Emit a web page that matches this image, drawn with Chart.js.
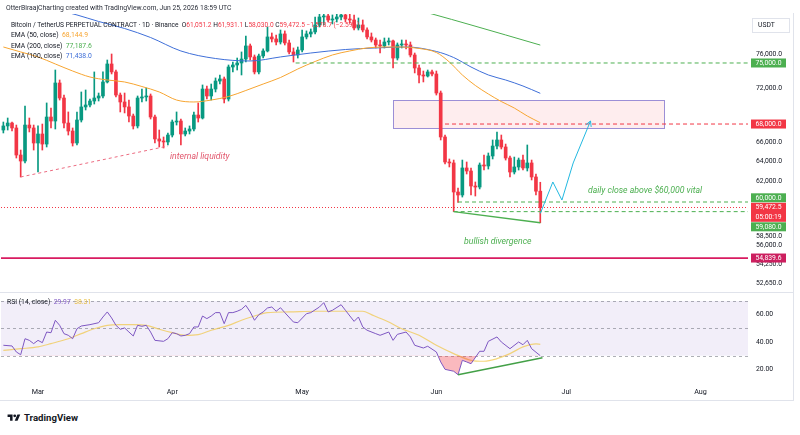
<!DOCTYPE html>
<html>
<head>
<meta charset="utf-8">
<script src="https://cdn.jsdelivr.net/npm/chart.js@4.4.1/dist/chart.umd.min.js"></script>
<style>
  body { margin: 0; background: #fff; font-family: Roboto, "DejaVu Sans", sans-serif; color: #131722; }
  #wrap { position: relative; width: 800px; height: 435px; overflow: hidden; background: #fff; }
  canvas { position: absolute; left: 0; }
  #main { top: 0; }
  #rsi { top: 293px; }
  .t { position: absolute; white-space: nowrap; font-size: 6.8px; line-height: 10px; z-index: 3; }
  .r { color: #f23645; }
  .line { position: absolute; background: #e0e3eb; z-index: 2; }
  #logo { position: absolute; left: 7px; top: 412px; display: flex; align-items: center; gap: 3px; font-weight: 700; font-size: 9.6px; }
</style>
</head>
<body>
<div id="wrap">
  <canvas id="main" width="800" height="292"></canvas>
  <canvas id="rsi" width="800" height="107"></canvas>
  <div class="line" style="left:0;top:292px;width:793px;height:1px"></div>
  <div class="line" style="left:793px;top:13px;width:1px;height:388px"></div>
  <div class="line" style="left:0;top:400px;width:794px;height:1px"></div>

  <div class="t" style="left:6px;top:3px;color:#2a2e39">OtterBiraajCharting created with TradingView.com, Jun 25, 2026 18:59 UTC</div>
  <div class="t" style="left:11px;top:20px;font-size:6.6px">Bitcoin / TetherUS PERPETUAL CONTRACT · 1D · Binance&nbsp; O<span class="r" id="vO"></span> H<span class="r" id="vH"></span> L<span class="r" id="vL"></span> C<span class="r" id="vC"></span></div>
  <div class="t" style="left:11px;top:30px">EMA (50, close)&nbsp; <span id="e50" style="color:#f7a531"></span></div>
  <div class="t" style="left:11px;top:40.5px">EMA (200, close)&nbsp; <span id="e200" style="color:#4caf50"></span></div>
  <div class="t" style="left:11px;top:50.5px">EMA (100, close)&nbsp; <span id="e100" style="color:#3f6fd8"></span></div>
  <div class="t" style="left:7px;top:297px">RSI (14, close)&nbsp; <span id="rsiV" style="color:#7e57c2"></span>&nbsp; <span id="maV" style="color:#e9c046"></span></div>

  <div id="logo">
    <svg width="14" height="10" viewBox="0 0 36 28"><path d="M14 22H7V11H0V4h14v18zM28 22h-8l7.5-18h8L28 22z" fill="#131722"/><circle cx="20" cy="8" r="4" fill="#131722"/></svg>
    <span>TradingView</span>
  </div>
</div>
<script>
// daily candles, first candle = 21 Feb (day -8), day 0 = 1 Mar
var firstDay = -8;
var openP = [
  67350,67790,68110,67570,64700,64080,67890,67570,65960,66920,
  65850,68770,68330,72630,70900,68110,67240,65960,68440,69890,
  70110,70560,70900,71130,72750,74880,73930,71240,70450,69890,
  68880,67790,70900,71020,71130,68770,66390,66170,66070,66810,
  68220,68330,66920,67240,67460,68990,68660,71930,71130,71930,
  72860,73100,70790,74520,74760,75000,75480,77080,75730,73930,
  75850,76460,78200,77950,77570,78580,77450,76340,75970,76580,
  78200,78580,78830,79720,80750,80880,80360,80490,80750,81010,
  80490,80360,79340,79720,79080,78200,77820,77200,77080,77570,
  77700,75600,77200,77320,77200,75970,74400,73570,73450,73930,
  73690,71470,66600,63980,63880,60970,60680,63370,63060,61560,
  61460,63670,63570,64600,65640,66280,65540,64390,62960,63470,
  64180,63370,63880,62460,61051.2
];
var highP = [
  68220,68660,68220,67890,65220,70000,68660,67890,67790,68000,
  70340,69770,74160,72980,71240,69330,67570,69330,71590,71820,
  70790,73930,71470,73930,75360,76090,74160,71470,71470,70670,
  69100,71130,71930,72050,71360,68990,67350,66600,67030,68440,
  69330,68550,67570,67790,69330,70340,72400,72280,72510,73220,
  73570,73330,74760,75120,75600,76340,78320,77320,75970,76090,
  76710,79460,78700,78450,79080,78960,77820,76830,76950,79080,
  78960,79210,80750,81660,81400,81400,81010,81140,81400,81400,
  81140,81010,80620,80360,79340,78700,78070,77820,78070,78070,
  77820,77450,77820,77820,77570,76210,74760,74040,74160,74160,
  74040,71700,66810,64290,64180,61360,64180,63980,63370,61960,
  63880,64700,64910,66280,67140,66810,65850,64600,64490,64390,
  64700,65750,64180,62760,61931.1
];
var lowP = [
  67030,67350,67240,64390,62460,63880,67140,65220,62960,65220,
  65540,67570,67460,70670,67570,66810,65640,65750,68220,69550,
  69890,70220,70560,70900,72630,73690,71020,69330,69220,68220,
  67460,67570,70450,70560,68550,65960,65540,65430,65750,66600,
  67890,65750,66710,66920,67240,68220,68550,70790,70670,71590,
  72510,70340,70560,73930,74160,73570,75120,75360,73690,73690,
  75600,76340,77570,77200,77320,77200,76090,75120,75600,76340,
  77950,78200,78580,79460,79720,80100,79850,80100,80360,80100,
  79970,79080,79080,78830,77950,77570,76830,76210,76830,77200,
  74400,75360,76830,76710,75730,73810,72630,72750,73330,73450,
  71240,66280,63770,63470,59080,59960,60480,62760,60680,60580,
  61270,63160,63260,64290,65330,65330,64180,62460,62760,63160,
  63160,63060,62160,60680,58030
];
var closeP = [
  67790,68110,67570,64700,64080,67890,67570,65960,66920,65850,
  68770,68330,72630,70900,68110,67240,65960,68440,69890,70110,
  70560,70900,71130,72750,74880,73930,71240,70450,69890,68880,
  67790,70900,71020,71130,68770,66390,66170,66070,66810,68220,
  68330,66920,67240,67460,68990,68660,71930,71130,71930,72860,
  73100,70790,74520,74760,75000,75480,77080,75730,73930,75850,
  76460,78200,77950,77570,78580,77450,76340,75970,76580,78200,
  78580,78830,79720,80750,80880,80360,80490,80750,81010,80490,
  80360,79340,79720,79080,78200,77820,77200,77080,77570,77700,
  75600,77200,77320,77200,75970,74400,73570,73450,73930,73690,
  71470,66600,63980,63880,60970,60680,63370,63060,61560,61460,
  63670,63570,64600,65640,66280,65540,64390,62960,63470,64180,
  63370,63880,62460,61051.2,59472.5
];

// moving averages, read at sample days
var ema50Days = [-8,-4,0,4,8,12,16,20,24,28,32,36,40,44,48,52,56,60,64,68,72,76,80,84,88,92,95,98,101,104,107,110,113,116];
var ema50 = [76950,76340,75730,74880,74040,73330,72980,72750,72220,71590,70670,70450,70670,71070,71760,72510,73270,74280,75180,75970,76460,76830,76950,76950,76770,76270,75120,73570,72340,71360,70500,69770,68880,68144.9];
var ema100Days = [-8,0,9,14,20,26,33,41,49,56,63,71,78,85,92,96,100,104,108,112,116];
var ema100 = [83380,82320,81010,80170,79270,78130,76460,75540,75240,75730,76210,76640,76830,76950,76400,75660,74520,73570,72980,72280,71438.0];
var ema200Days = [84,91,100,108,116];
var ema200 = [82180,81140,79720,78450,77187.6];

// RSI pane
var rsiDays = [-8,-6,-5,-4,-3,-2,-1,0,1,2,3,4,5,6,7,8,9,10,12,14,15,16,17,18,19,20,21,22,23,24,25,26,27,29,30,31,32,33,34,35,36,37,38,39,40,41,42,43,44,45,46,47,48,49,50,51,52,53,54,55,56,57,59,60,62,63,65,66,67,68,70,71,73,74,75,76,78,79,81,82,83,85,86,87,89,90,92,93,94,96,97,98,99,100,102,103,104,106,107,109,111,112,113,114,116];
var rsiVals = [37.6,37.1,32.7,30.7,42.4,41.2,38.8,41.2,39.5,47.3,46.8,55.9,52.2,46.1,44.9,42.4,49.7,51.7,52.7,54.1,58.3,62.0,57.6,52.2,49.3,50.3,47.3,44.4,52.2,51.5,52.2,47.3,41.2,40.5,42.4,46.8,46.1,44.4,44.9,46.1,51.0,51.0,59.0,57.1,59.0,61.5,61.5,53.4,61.5,61.5,62.5,63.9,66.8,62.0,55.9,60.0,62.0,64.9,65.6,62.5,65.1,61.5,54.6,54.1,60.7,61.5,65.6,68.8,62.0,63.2,67.3,63.2,55.1,58.3,51.0,48.6,46.1,44.9,47.3,41.2,45.6,47.3,43.7,37.6,35.6,36.9,32.7,25.4,20.0,18.6,16.1,26.6,25.4,24.1,33.2,33.2,40.5,43.7,40.0,35.1,40.0,38.0,41.2,35.1,29.97];
var rsiMaDays = [-8,-4,0,3,7,10,13,16,19,22,25,28,31,34,37,40,44,47,50,53,58,64,69,75,77,81,84,88,92,96,100,103,106,109,112,115,116];
var rsiMa = [33.9,35.1,36.4,38.8,42.4,46.1,49.7,52.2,52.7,52.7,52.2,49.3,46.8,44.9,45.4,48.6,52.2,55.9,59.0,61.5,62.0,62.5,62.5,62.5,60.0,54.6,49.7,44.9,37.6,31.5,26.6,25.9,27.8,31.5,36.4,38.6,38.31];

// drawings
var zoneDays = [82, 144.5];
var zonePrices = [70700, 67550];
var arrowDays = [116, 118.9, 121, 123.6, 127.6];
var arrowPrices = [58900, 61960, 60190, 63880, 68330];
var liquidityDays = [-4, 30];
var liquidityPrices = [62460, 65640];
var divergenceDays = [96, 116];
var divergencePrices = [59080, 58030];
var rsiDivDays = [97, 116.5];
var rsiDivVals = [16.1, 28.5];
var levels = [75000, 68000, 60000, 59080, 54839.6];
var levelStart = [59.5, 94, 97, 96, -9];
var priceTicks = [76000, 72000, 66000, 64000, 62000, 56000, 54250, 52650];
var monthDays = [0, 31, 61, 92, 122, 153];
var monthNames = ['Mar', 'Apr', 'May', 'Jun', 'Jul', 'Aug'];

var X_MIN = -8.545, X_MAX = 163.97;
var UP = '#089981', DOWN = '#f23645';
var FONT = 'Roboto, "DejaVu Sans", sans-serif';

function fmt(v, d) { return v.toLocaleString('en-US', { minimumFractionDigits: d, maximumFractionDigits: d }); }
function pts(xs, ys) { return xs.map(function (x, i) { return { x: x, y: ys[i] }; }); }

var days = closeP.map(function (c, i) { return firstDay + i; });
var candleColors = closeP.map(function (c, i) { return c >= openP[i] ? UP : DOWN; });
var last = closeP.length - 1;

document.getElementById('vO').textContent = fmt(openP[last], 1);
document.getElementById('vH').textContent = fmt(highP[last], 1);
document.getElementById('vL').textContent = fmt(lowP[last], 1);
var chg = closeP[last] - openP[last];
document.getElementById('vC').textContent = fmt(closeP[last], 1) + ' \u2212' + fmt(-chg, 1) + ' (\u2212' + fmt(-chg / openP[last] * 100, 2) + '%)';
document.getElementById('e50').textContent = fmt(ema50[ema50.length - 1], 1);
document.getElementById('e200').textContent = fmt(ema200[ema200.length - 1], 1);
document.getElementById('e100').textContent = fmt(ema100[ema100.length - 1], 1);
document.getElementById('rsiV').textContent = fmt(rsiVals[rsiVals.length - 1], 2);
document.getElementById('maV').textContent = fmt(rsiMa[rsiMa.length - 1], 2);

function lineDs(data, color, extra) {
  var ds = { type: 'line', data: data, borderColor: color, borderWidth: 1, pointRadius: 0, fill: false, order: 3 };
  for (var k in extra) ds[k] = extra[k];
  return ds;
}

var datasets = [
  { type: 'bar', data: days.map(function (d, i) { return { x: d, y: [Math.min(openP[i], closeP[i]), Math.max(openP[i], closeP[i])] }; }),
    backgroundColor: candleColors, barThickness: 3, minBarLength: 1, grouped: false, order: 8 },
  { type: 'bar', data: days.map(function (d, i) { return { x: d, y: [lowP[i], highP[i]] }; }),
    backgroundColor: candleColors, barThickness: 1, grouped: false, order: 9 },
  lineDs(pts(ema50Days, ema50), '#f7a531', { cubicInterpolationMode: 'monotone', order: 5 }),
  lineDs(pts(ema100Days, ema100), '#3f6fd8', { cubicInterpolationMode: 'monotone', order: 5 }),
  lineDs(pts(ema200Days, ema200), '#4caf50', { cubicInterpolationMode: 'monotone', order: 5 }),
  lineDs(pts(liquidityDays, liquidityPrices), '#ec6b80', { borderDash: [3, 3] }),
  lineDs(pts(divergenceDays, divergencePrices), '#4caf50', { borderWidth: 1.5 }),
  lineDs(pts(arrowDays, arrowPrices), '#22b8e0', {}),
  lineDs(pts([X_MIN, X_MAX], [closeP[last], closeP[last]]), '#f23645', { borderDash: [1, 2] })
];
var levelColors = ['#4caf50', '#f23645', '#4caf50', '#4caf50', '#d81b60'];
levels.forEach(function (v, i) {
  var solid = i === levels.length - 1;
  datasets.push(lineDs(pts([levelStart[i], X_MAX], [v, v]), levelColors[i],
    solid ? { borderWidth: 1.8 } : { borderDash: [4, 3] }));
});

function drawTag(ctx, left, top, h, color, lines) {
  ctx.fillStyle = color;
  ctx.fillRect(left, top, 35, h);
  ctx.fillStyle = '#fff';
  ctx.font = '6.8px ' + FONT;
  ctx.textAlign = 'center';
  ctx.textBaseline = 'middle';
  lines.forEach(function (t, i) { ctx.fillText(t, left + 17.5, top + 4.7 + i * 9.5); });
}

var notes = [
  { text: 'internal liquidity', day: 30.5, price: 64490, color: '#e2566c' },
  { text: 'daily close above $60,000 vital', day: 127, price: 61070, color: '#4caf50' },
  { text: 'bullish divergence', day: 98.4, price: 56270, color: '#4caf50' }
];

// keep chart area exactly where the panes are (no label overhang padding)
function fixWidth(s) { s.width = 52; s.paddingTop = 0; s.paddingBottom = 0; }

var mainDecor = {
  id: 'mainDecor',
  beforeDatasetsDraw: function (chart) {
    var x = chart.scales.x, y = chart.scales.y, ctx = chart.ctx;
    var l = Math.round(x.getPixelForValue(zoneDays[0])) + 0.5, r = Math.round(x.getPixelForValue(zoneDays[1])) + 0.5;
    var t = Math.round(y.getPixelForValue(zonePrices[0])) + 0.5, b = Math.round(y.getPixelForValue(zonePrices[1])) + 0.5;
    ctx.save();
    ctx.fillStyle = 'rgba(242,54,69,0.09)';
    ctx.fillRect(l, t, r - l, b - t);
    ctx.strokeStyle = '#9c8fd6';
    ctx.lineWidth = 1;
    ctx.strokeRect(l, t, r - l, b - t);
    ctx.restore();
  },
  afterDraw: function (chart) {
    var x = chart.scales.x, y = chart.scales.y, ctx = chart.ctx;
    ctx.save();
    ctx.font = 'italic 8.7px ' + FONT;
    ctx.textAlign = 'left';
    ctx.textBaseline = 'middle';
    notes.forEach(function (n) {
      ctx.fillStyle = n.color;
      ctx.fillText(n.text, x.getPixelForValue(n.day), y.getPixelForValue(n.price));
    });
    // arrow head
    var n = arrowDays.length;
    var px = x.getPixelForValue(arrowDays[n - 1]), py = y.getPixelForValue(arrowPrices[n - 1]);
    var qx = x.getPixelForValue(arrowDays[n - 2]), qy = y.getPixelForValue(arrowPrices[n - 2]);
    var a = Math.atan2(py - qy, px - qx);
    ctx.strokeStyle = '#22b8e0';
    ctx.lineWidth = 1;
    ctx.beginPath();
    ctx.moveTo(px - 6 * Math.cos(a - 0.5), py - 6 * Math.sin(a - 0.5));
    ctx.lineTo(px, py);
    ctx.lineTo(px - 6 * Math.cos(a + 0.5), py - 6 * Math.sin(a + 0.5));
    ctx.stroke();
    // price tags on the axis
    var left = y.left + 3;
    var redTop = y.getPixelForValue(closeP[last]) - 4.7;
    drawTag(ctx, left, y.getPixelForValue(levels[0]) - 4.5, 9, '#4caf50', [fmt(levels[0], 1)]);
    drawTag(ctx, left, y.getPixelForValue(levels[1]) - 4.5, 9, '#f23645', [fmt(levels[1], 1)]);
    drawTag(ctx, left, Math.min(y.getPixelForValue(levels[2]) - 4.5, redTop - 9.5), 9, '#4caf50', [fmt(levels[2], 1)]);
    drawTag(ctx, left, redTop, 19, '#f23645', [fmt(closeP[last], 1), '05:00:19']);
    var lowTop = Math.max(y.getPixelForValue(levels[3]) - 4.5, redTop + 19.5);
    drawTag(ctx, left, lowTop, 9, '#4caf50', [fmt(levels[3], 1)]);
    drawTag(ctx, left, y.getPixelForValue(levels[4]) - 4.5, 9, '#cc1f5f', [fmt(levels[4], 1)]);
    // tick label pushed below the tag stack
    ctx.fillStyle = '#131722';
    ctx.textAlign = 'left';
    ctx.font = '6.8px ' + FONT;
    ctx.fillText(fmt(58500, 1), y.left + 8, lowTop + 14);
    // currency box
    ctx.fillStyle = '#fff';
    ctx.strokeStyle = '#e0e3eb';
    ctx.fillRect(y.left + 4.5, 18.5, 37, 14);
    ctx.strokeRect(y.left + 4.5, 18.5, 37, 14);
    ctx.fillStyle = '#131722';
    ctx.fillText('USDT', y.left + 10, 25.5);
    ctx.restore();
  }
};

new Chart(document.getElementById('main'), {
  type: 'bar',
  data: { datasets: datasets },
  options: {
    responsive: false, animation: false,
    layout: { padding: { top: 14, bottom: 1, left: 1, right: 0 } },
    plugins: { legend: { display: false }, tooltip: { enabled: false } },
    scales: {
      x: { type: 'linear', display: false, min: X_MIN, max: X_MAX, offset: false },
      y: {
        type: 'logarithmic', position: 'right', min: 52013, max: 81135,
        grid: { display: false, drawTicks: false }, border: { display: false },
        ticks: { autoSkip: false, padding: 8, color: '#131722', font: { family: FONT, size: 6.8 },
                 callback: function (v) { return fmt(v, 1); } },
        afterBuildTicks: function (s) { s.ticks = priceTicks.map(function (v) { return { value: v }; }); },
        afterFit: fixWidth
      }
    }
  },
  plugins: [mainDecor]
});

var rsiDecor = {
  id: 'rsiDecor',
  beforeDatasetsDraw: function (chart) {
    var a = chart.chartArea, y = chart.scales.y, ctx = chart.ctx;
    ctx.save();
    ctx.fillStyle = 'rgba(126,87,194,0.1)';
    ctx.fillRect(a.left, y.getPixelForValue(70), a.right - a.left, y.getPixelForValue(30) - y.getPixelForValue(70));
    ctx.strokeStyle = 'rgba(120,123,134,0.6)';
    ctx.setLineDash([3, 3]);
    ctx.lineWidth = 1;
    [70, 50, 30].forEach(function (v) {
      var py = Math.round(y.getPixelForValue(v)) + 0.5;
      ctx.beginPath(); ctx.moveTo(a.left, py); ctx.lineTo(a.right, py); ctx.stroke();
    });
    ctx.restore();
  }
};

new Chart(document.getElementById('rsi'), {
  type: 'line',
  data: {
    datasets: [
      { data: pts(rsiDays, rsiVals), borderColor: '#7e57c2', borderWidth: 1, pointRadius: 0, tension: 0, order: 1,
        fill: { target: { value: 30 }, above: 'rgba(0,0,0,0)', below: 'rgba(242,54,69,0.35)' } },
      { data: pts(rsiMaDays, rsiMa), borderColor: 'rgba(240,200,80,0.75)', borderWidth: 1.2, pointRadius: 0,
        cubicInterpolationMode: 'monotone', fill: false, order: 2 },
      { data: pts(rsiDivDays, rsiDivVals), borderColor: '#43a047', borderWidth: 1.5, pointRadius: 0, fill: false, order: 0 }
    ]
  },
  options: {
    responsive: false, animation: false,
    layout: { padding: { top: 1, bottom: 0, left: 1, right: 0 } },
    plugins: { legend: { display: false }, tooltip: { enabled: false } },
    scales: {
      x: {
        type: 'linear', min: X_MIN, max: X_MAX,
        grid: { display: false, drawTicks: false }, border: { display: false },
        ticks: { autoSkip: false, maxRotation: 0, padding: 5, color: '#131722', font: { family: FONT, size: 7.2 },
                 callback: function (v) { var k = monthDays.indexOf(v); return k < 0 ? '' : monthNames[k]; } },
        afterBuildTicks: function (s) { s.ticks = monthDays.map(function (v) { return { value: v }; }); },
        afterFit: function (s) { s.height = 17; s.paddingLeft = 0; s.paddingRight = 0; }
      },
      y: {
        position: 'right', min: 10, max: 75.12,
        grid: { display: false, drawTicks: false }, border: { display: false },
        ticks: { autoSkip: false, padding: 8, color: '#131722', font: { family: FONT, size: 6.8 },
                 callback: function (v) { return fmt(v, 2); } },
        afterBuildTicks: function (s) { s.ticks = [20, 40, 60].map(function (v) { return { value: v }; }); },
        afterFit: fixWidth
      }
    }
  },
  plugins: [rsiDecor]
});
</script>
</body>
</html>
